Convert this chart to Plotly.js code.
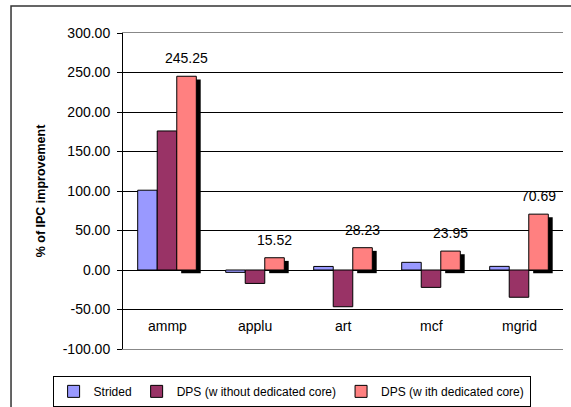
<!DOCTYPE html>
<html>
<head>
<meta charset="utf-8">
<script src="https://cdn.plot.ly/plotly-3.0.1.min.js"></script>
<style>html,body{margin:0;padding:0;background:#fff;}#chart{width:571px;height:407px;}</style>
</head>
<body>
<div id="chart"></div>
<script>
var categories = ['ammp', 'applu', 'art', 'mcf', 'mgrid'];
var strided = [101, -3, 4.5, 9.7, 4.6];
var dpsWithout = [176, -17, -46.5, -22, -34.5];
var dpsWith = [245.25, 15.52, 28.23, 23.95, 70.69];
var seriesNames = ['Strided', 'DPS (w ithout dedicated core)', 'DPS (w ith dedicated core)'];
var yTicks = [-100, -50, 0, 50, 100, 150, 200, 250, 300];
var yTickText = ['-100.00', '-50.00', '0.00', '50.00', '100.00', '150.00', '200.00', '250.00', '300.00'];

var FONT = 'Arial, "Liberation Sans", sans-serif';
var barW = 0.222;
var offs = [-1.5 * barW, -0.5 * barW, 0.5 * barW];
var shadowShift = 0.05;
var shadowDrop = 4;
var idx = categories.map(function (c, i) { return i; });

function barTrace(name, vals, color, off) {
  return {
    type: 'bar', name: name, x: idx, y: vals,
    width: barW, offset: off,
    marker: {color: color, line: {color: '#000', width: 1}},
    hoverinfo: 'skip'
  };
}

var shadow = {
  type: 'bar', x: idx, y: dpsWith, base: dpsWith.map(function () { return -shadowDrop; }),
  width: barW, offset: offs[2] + shadowShift,
  marker: {color: '#000', line: {width: 0}}, showlegend: false, hoverinfo: 'skip'
};

var data = [
  barTrace(seriesNames[0], strided, '#9999FF', offs[0]),
  barTrace(seriesNames[1], dpsWithout, '#993366', offs[1]),
  shadow,
  barTrace(seriesNames[2], dpsWith, '#FF8080', offs[2])
];

var annotations = [];
dpsWith.forEach(function (v, i) {
  annotations.push({
    x: i + offs[2] + barW / 2, y: v, xref: 'x', yref: 'y',
    text: v.toFixed(2), showarrow: false, yshift: 18, yanchor: 'middle',
    font: {family: FONT, size: 14, color: '#000'}
  });
});
categories.forEach(function (c, i) {
  annotations.push({
    x: i, y: -71, xref: 'x', yref: 'y', text: c, showarrow: false,
    yanchor: 'middle', font: {family: FONT, size: 14, color: '#000'}
  });
});

var layout = {
  width: 571, height: 407,
  margin: {l: 123, r: 8, t: 33, b: 58, autoexpand: false},
  paper_bgcolor: '#fff', plot_bgcolor: '#fff',
  font: {family: FONT, color: '#000'},
  barmode: 'overlay',
  showlegend: true,
  legend: {
    orientation: 'h', x: -0.16, xanchor: 'left', y: -0.085, yanchor: 'top',
    bordercolor: '#000', borderwidth: 1, bgcolor: '#fff',
    font: {family: FONT, size: 12, color: '#000'},
    traceorder: 'normal'
  },
  xaxis: {
    type: 'linear', range: [-0.5, categories.length - 0.5],
    showticklabels: false, ticks: '', showgrid: false, zeroline: false,
    showline: true, linecolor: '#888', linewidth: 1, mirror: true, fixedrange: true
  },
  xaxis2: {
    overlaying: 'x', anchor: 'free', position: 0.25,
    type: 'linear', range: [-0.5, categories.length - 0.5],
    tickvals: idx.slice(1).map(function (i) { return i - 0.5; }),
    ticks: 'outside', ticklen: 4, tickcolor: '#000', tickwidth: 1,
    showticklabels: false, showgrid: false, zeroline: false, showline: false
  },
  yaxis: {
    range: [-100, 300], tickvals: yTicks, ticktext: yTickText,
    ticks: 'outside', ticklen: 5, tickcolor: '#000',
    ticklabelstandoff: 4,
    tickfont: {family: FONT, size: 14, color: '#000'},
    showgrid: true, gridcolor: '#000', gridwidth: 1,
    zeroline: true, zerolinecolor: '#000', zerolinewidth: 1,
    showline: true, linecolor: '#000', linewidth: 1,
    title: {text: '<b>% of IPC improvement</b>', standoff: 14,
            font: {family: FONT, size: 12.5, color: '#000'}},
    fixedrange: true
  },
  annotations: annotations,
  shapes: [
    {type: 'rect', xref: 'paper', yref: 'paper', x0: -0.2545, x1: 1.2, y0: -0.5, y1: 1.0854,
     line: {color: '#333', width: 1.5}, fillcolor: 'rgba(0,0,0,0)', layer: 'below'}
  ]
};

Plotly.newPlot('chart', data, layout, {displayModeBar: false, staticPlot: true});
</script>
</body>
</html>
